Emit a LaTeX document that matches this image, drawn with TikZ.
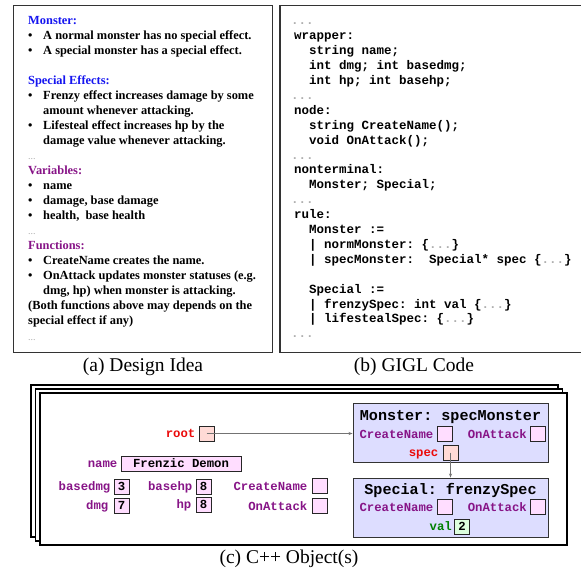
\documentclass[tikz,border=0pt]{standalone}
\usepackage{fontspec}
\setmainfont{Liberation Serif}
\newfontfamily\codefont{Liberation Mono}
\usetikzlibrary{arrows.meta}
\frenchspacing

\definecolor{hdblue}{RGB}{20,20,240}
\definecolor{hdpurple}{RGB}{135,20,135}
\definecolor{lblred}{RGB}{235,10,10}
\definecolor{lblgreen}{RGB}{0,128,0}
\definecolor{cellpink}{RGB}{255,221,255}
\definecolor{cellsalmon}{RGB}{255,218,214}
\definecolor{cellgreen}{RGB}{221,255,221}
\definecolor{objfill}{RGB}{221,221,255}
\definecolor{dotgray}{RGB}{175,175,175}

\newcommand{\gd}{\textcolor{dotgray}{...}}

\tikzset{
  panel/.style={draw=black!80, line width=1.3pt},
  frame/.style={draw=black, line width=1.1pt, fill=white},
  atext/.style={anchor=base west, inner sep=0pt, font=\fontsize{12.4}{15}\selectfont\bfseries},
  ctext/.style={anchor=base west, inner sep=0pt, font=\codefont\fontsize{12.5}{15}\selectfont\bfseries},
  lab/.style={anchor=base east, inner sep=0pt, font=\codefont\fontsize{12.3}{15}\selectfont\bfseries},
  cell/.style={draw=black!85, line width=0.9pt, minimum width=15pt, minimum height=15pt,
    inner sep=0pt, fill=cellpink, font=\codefont\fontsize{12.3}{15}\selectfont\bfseries},
  objbox/.style={draw=black!80, line width=0.9pt, fill=objfill, inner sep=0pt},
  objtitle/.style={anchor=base, inner sep=0pt, font=\codefont\fontsize{15.1}{18}\selectfont\bfseries},
  caption/.style={anchor=base, inner sep=0pt, font=\fontsize{19.5}{22}\selectfont},
  link/.style={draw=black!55, line width=0.6pt, -{Stealth[length=4pt,width=3pt]}},
}

\begin{document}
\begin{tikzpicture}[x=1pt,y=-1pt]
\useasboundingbox (0,0) rectangle (581,569);

% ---------- (a) design idea ----------
\draw[panel] (13.5,5.5) rectangle (272.5,352.5);
\node[atext, text=hdblue] (aMon) at (28,25) {Monster:};
\node[atext] (aB1) at (28,40) {\textbullet};
\node[atext] (aL1) at (43,40) {A normal monster has no special effect.};
\node[atext] (aB2) at (28,55) {\textbullet};
\node[atext] (aL2) at (43,55) {A special monster has a special effect.};
\node[atext, text=hdblue] (aSpec) at (28,85) {Special Effects:};
\node[atext] (aB3) at (28,100) {\textbullet};
\node[atext] (aL3) at (43,100) {Frenzy effect increases damage by some};
\node[atext] (aL4) at (43,115) {amount whenever attacking.};
\node[atext] (aB4) at (28,130) {\textbullet};
\node[atext] (aL5) at (43,130) {Lifesteal effect increases hp by the};
\node[atext] (aL6) at (43,145) {damage value whenever attacking.};
\node[atext, font=\fontsize{10}{12}\selectfont, text=dotgray] (aD1) at (28,160) {...};
\node[atext, text=hdpurple] (aVar) at (28,175) {Variables:};
\node[atext] (aB5) at (28,190) {\textbullet};
\node[atext] (aL7) at (43,190) {name};
\node[atext] (aB6) at (28,205) {\textbullet};
\node[atext] (aL8) at (43,205) {damage, base damage};
\node[atext] (aB7) at (28,220) {\textbullet};
\node[atext] (aL9) at (43,220) {health,\ \ base health};
\node[atext, font=\fontsize{10}{12}\selectfont, text=dotgray] (aD2) at (28,235) {...};
\node[atext, text=hdpurple] (aFun) at (28,250) {Functions:};
\node[atext] (aB8) at (28,265) {\textbullet};
\node[atext] (aL10) at (43,265) {CreateName creates the name.};
\node[atext] (aB9) at (28,280) {\textbullet};
\node[atext] (aL11) at (43,280) {OnAttack updates monster statuses (e.g.};
\node[atext] (aL12) at (43,295) {dmg, hp) when monster is attacking.};
\node[atext] (aL13) at (28,310) {(Both functions above may depends on the};
\node[atext] (aL14) at (28,325) {special effect if any)};
\node[atext, font=\fontsize{10}{12}\selectfont, text=dotgray] (aD3) at (28,341) {...};
\node[caption] (capA) at (143,371) {(a) Design Idea};

% ---------- (b) GIGL code ----------
\draw[panel] (280,5.5) rectangle (590,352.5);
\node[ctext] (b0) at (291,25) {\gd};
\node[ctext] (b1) at (294,39.9) {wrapper:};
\node[ctext] (b2) at (309,54.8) {string name;};
\node[ctext] (b3) at (309,69.7) {int dmg; int basedmg;};
\node[ctext] (b4) at (309,84.6) {int hp; int basehp;};
\node[ctext] (b5) at (291,99.5) {\gd};
\node[ctext] (b6) at (294,114.4) {node:};
\node[ctext] (b7) at (309,129.3) {string CreateName();};
\node[ctext] (b8) at (309,144.2) {void OnAttack();};
\node[ctext] (b9) at (291,159.1) {\gd};
\node[ctext] (b10) at (294,174) {nonterminal:};
\node[ctext] (b11) at (309,188.9) {Monster; Special;};
\node[ctext] (b12) at (291,203.8) {\gd};
\node[ctext] (b13) at (294,218.7) {rule:};
\node[ctext] (b14) at (309,233.6) {Monster :=};
\node[ctext] (b15) at (309,248.5) {| normMonster: \{\gd\}};
\node[ctext] (b16) at (309,263.4) {| specMonster:\ \ Special* spec \{\gd\}};
\node[ctext] (b17) at (309,293.2) {Special :=};
\node[ctext] (b18) at (309,308.1) {| frenzySpec: int val \{\gd\}};
\node[ctext] (b19) at (309,323) {| lifestealSpec: \{\gd\}};
\node[ctext] (b20) at (291,337.9) {\gd};
\node[caption] (capB) at (414,371) {(b) GIGL Code};

% ---------- (c) C++ objects ----------
\draw[frame] (31,385) rectangle (558,537);
\draw[frame] (35.5,389) rectangle (562.5,541);
\draw[frame] (40,393) rectangle (567,545);

% wrapper fields
\node[cell, fill=cellsalmon] (root) at (206.5,433.5) {};
\node[lab, text=lblred] (rootL) at ([xshift=-3pt]root.west |- 0,437.5) {root};
\node[cell, minimum width=120pt] (nameV) at (181,463.5) {Frenzic Demon};
\node[lab, text=hdpurple] (nameL) at ([xshift=-3pt]nameV.west |- 0,467.5) {name};
\node[cell] (bdmg) at (121.5,486.5) {3};
\node[lab, text=hdpurple] (bdmgL) at ([xshift=-3pt]bdmg.west |- 0,490.5) {basedmg};
\node[cell] (bhp) at (203.5,486.5) {8};
\node[lab, text=hdpurple] (bhpL) at ([xshift=-3pt]bhp.west |- 0,490.5) {basehp};
\node[cell] (wcn) at (319.5,485.5) {};
\node[lab, text=hdpurple] (wcnL) at ([xshift=-4pt]wcn.west |- 0,490) {CreateName};
\node[cell] (dmg) at (121.5,505.5) {7};
\node[lab, text=hdpurple] (dmgL) at ([xshift=-5pt]dmg.west |- 0,509.5) {dmg};
\node[cell] (hp) at (203.5,504.5) {8};
\node[lab, text=hdpurple] (hpL) at ([xshift=-4pt]hp.west |- 0,508.5) {hp};
\node[cell] (woa) at (319.5,505.5) {};
\node[lab, text=hdpurple] (woaL) at ([xshift=-4pt]woa.west |- 0,510) {OnAttack};

% Monster: specMonster
\node[objbox, minimum width=195pt, minimum height=59pt] (mon) at (450.5,432.5) {};
\node[objtitle] (monT) at (450.5,420) {Monster: specMonster};
\node[cell] (mcn) at (444.5,433.5) {};
\node[lab, text=hdpurple] (mcnL) at ([xshift=-3pt]mcn.west |- 0,438) {CreateName};
\node[cell] (moa) at (538,433.5) {};
\node[lab, text=hdpurple] (moaL) at ([xshift=-3pt]moa.west |- 0,438) {OnAttack};
\node[cell, fill=cellsalmon] (spec) at (450.5,452.5) {};
\node[lab, text=lblred] (specL) at ([xshift=-4pt]spec.west |- 0,456.5) {spec};

% Special: frenzySpec
\node[objbox, minimum width=195pt, minimum height=59pt] (spc) at (450.5,507.5) {};
\node[objtitle] (spcT) at (450.5,494.5) {Special: frenzySpec};
\node[cell] (scn) at (444.5,506.5) {};
\node[lab, text=hdpurple] (scnL) at ([xshift=-3pt]scn.west |- 0,511) {CreateName};
\node[cell] (soa) at (538,506.5) {};
\node[lab, text=hdpurple] (soaL) at ([xshift=-3pt]soa.west |- 0,511) {OnAttack};
\node[cell, fill=cellgreen] (val) at (462,526.5) {2};
\node[lab, text=lblgreen] (valL) at ([xshift=-2pt]val.west |- 0,530.5) {val};

% pointers
\draw[link] (root.center) -- (root.center -| mon.west);
\draw[link] (spec.center) -- (spec.center |- spc.north);

\node[caption] (capC) at (289,563.5) {(c) C++ Object(s)};
\end{tikzpicture}
\end{document}
